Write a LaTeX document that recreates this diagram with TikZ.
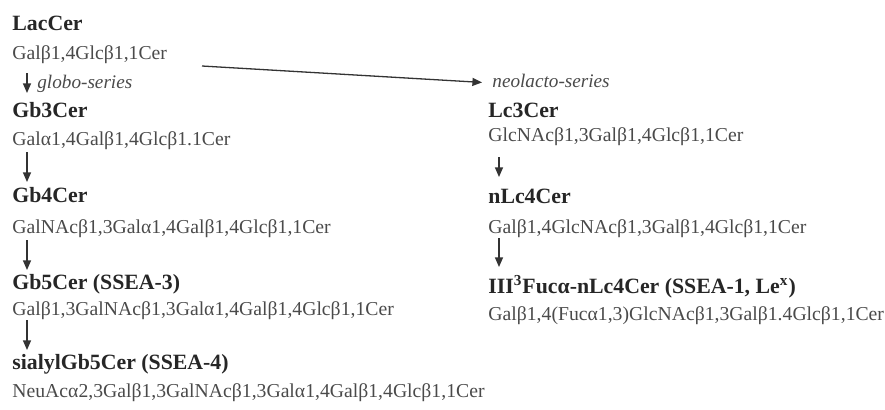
\documentclass[tikz,border=0pt]{standalone}
\usepackage{fontspec}
\setmainfont{Liberation Serif}
\usetikzlibrary{arrows.meta}
\definecolor{seqgray}{HTML}{4A4A4A}
\definecolor{titlegray}{HTML}{262626}
\definecolor{arrowgray}{HTML}{333333}
\begin{document}
\begin{tikzpicture}[x=0.5pt,y=-0.5pt,
  title/.style={anchor=base west,inner sep=0pt,font=\fontsize{10.9}{13}\selectfont\bfseries,text=titlegray},
  seq/.style={anchor=base west,inner sep=0pt,font=\fontsize{9.85}{11}\selectfont,text=seqgray},
  series/.style={anchor=base west,inner sep=0pt,font=\fontsize{9.6}{11}\selectfont\itshape,text=seqgray},
  conn/.style={draw=arrowgray,line width=0.65pt,-{Triangle[length=4.8pt,width=4pt]}}]
\useasboundingbox (0,0) rectangle (885,409);
% left column (globo-series)
\node[title] (lac) at (12,30) {LacCer};
\node[seq] (lacseq) at (12,59) {Galβ1,4Glcβ1,1Cer};
\node[series] (globo) at (37,88) {globo-series};
\node[title] (gb3) at (12,117) {Gb3Cer};
\node[seq] (gb3seq) at (12,145) {Galα1,4Galβ1,4Glcβ1.1Cer};
\node[title] (gb4) at (12,202) {Gb4Cer};
\node[seq] (gb4seq) at (12,233) {GalNAcβ1,3Galα1,4Galβ1,4Glcβ1,1Cer};
\node[title] (gb5) at (12,289) {Gb5Cer (SSEA-3)};
\node[seq] (gb5seq) at (12,315) {Galβ1,3GalNAcβ1,3Galα1,4Galβ1,4Glcβ1,1Cer};
\node[title] (sgb5) at (12,369) {sialylGb5Cer (SSEA-4)};
\node[seq] (sgb5seq) at (12,397) {NeuAcα2,3Galβ1,3GalNAcβ1,3Galα1,4Galβ1,4Glcβ1,1Cer};
% right column (neolacto-series)
\node[series] (neolacto) at (492,87) {neolacto-series};
\node[title] (lc3) at (488,117) {Lc3Cer};
\node[seq] (lc3seq) at (488,141) {GlcNAcβ1,3Galβ1,4Glcβ1,1Cer};
\node[title] (nlc4) at (488,203) {nLc4Cer};
\node[seq] (nlc4seq) at (488,233) {Galβ1,4GlcNAcβ1,3Galβ1,4Glcβ1,1Cer};
\node[title] (fuc) at (488,293) {III\textsuperscript{3}Fucα-nLc4Cer (SSEA-1, Le\textsuperscript{x})};
\node[seq] (fucseq) at (488,320) {Galβ1,4(Fucα1,3)GlcNAcβ1,3Galβ1.4Glcβ1,1Cer};
% connectors
\coordinate (hstart) at (202,66);
\draw[conn] (hstart) -- ([xshift=-5pt,yshift=-1pt]neolacto.west);
\draw[conn] ([xshift=7.5pt,yshift=-7pt]lacseq.base west) -- ([xshift=7.5pt,yshift=12pt]gb3.base west);
\draw[conn] ([xshift=7.5pt,yshift=-3.5pt]gb3seq.base west) -- ([xshift=7.5pt,yshift=10pt]gb4.base west);
\draw[conn] ([xshift=7.5pt,yshift=-3.5pt]gb4seq.base west) -- ([xshift=7.5pt,yshift=9.5pt]gb5.base west);
\draw[conn] ([xshift=7.5pt,yshift=-2.5pt]gb5seq.base west) -- ([xshift=7.5pt,yshift=9.5pt]sgb5.base west);
\draw[conn] ([xshift=5.5pt,yshift=-8pt]lc3seq.base west) -- ([xshift=5.5pt,yshift=13pt]nlc4.base west);
\draw[conn] ([xshift=5.5pt,yshift=-2.5pt]nlc4seq.base west) -- ([xshift=5.5pt,yshift=13pt]fuc.base west);
\end{tikzpicture}
\end{document}
